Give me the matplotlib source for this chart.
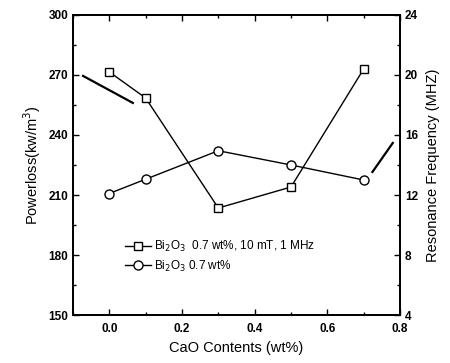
import matplotlib
matplotlib.use("Agg")
import matplotlib.pyplot as plt
from matplotlib.ticker import MultipleLocator

plt.rcParams["font.family"] = ["Liberation Sans", "DejaVu Sans"]

cao = [0.0, 0.1, 0.3, 0.5, 0.7]
powerloss = [271.5, 258.5, 203.5, 214.0, 273.0]
frequency = [12.1, 13.05, 14.95, 14.0, 13.0]

legend_loss = r"Bi$_2$O$_3$  0.7 wt%, 10 mT, 1 MHz"
legend_freq = r"Bi$_2$O$_3$ 0.7 wt%"

fig = plt.figure(figsize=(4.5, 3.63), dpi=100)
ax = fig.add_axes([0.162, 0.132, 0.727, 0.827])
ax2 = ax.twinx()

l1, = ax.plot(cao, powerloss, color="black", linewidth=1.0, marker="s",
              markersize=6, markerfacecolor="white", markeredgewidth=1.0,
              label=legend_loss)
l2, = ax2.plot(cao, frequency, color="black", linewidth=1.0, marker="o",
               markersize=6.5, markerfacecolor="white", markeredgewidth=1.0,
               label=legend_freq)

# pointer lines to each axis
ax.plot([-0.072, 0.065], [269.5, 256.0], color="black", linewidth=1.6)
ax.plot([0.724, 0.78], [221.5, 236.0], color="black", linewidth=1.6)

ax.set_xlim(-0.1, 0.8)
ax.set_ylim(150, 300)
ax2.set_ylim(4, 24)

ax.xaxis.set_major_locator(MultipleLocator(0.2))
ax.xaxis.set_minor_locator(MultipleLocator(0.1))
ax.yaxis.set_major_locator(MultipleLocator(30))
ax.yaxis.set_minor_locator(MultipleLocator(15))
ax2.yaxis.set_major_locator(MultipleLocator(4))
ax2.yaxis.set_minor_locator(MultipleLocator(2))

ax.tick_params(axis="both", which="both", direction="in", top=True,
               labelsize=8.5, width=1.0)
ax.tick_params(which="major", length=4)
ax.tick_params(which="minor", length=2.5)
ax.tick_params(axis="x", pad=6)
ax2.tick_params(axis="y", which="both", direction="in", labelsize=8.5, width=1.0)
ax2.tick_params(which="major", length=4)
ax2.tick_params(which="minor", length=2.5)
for a in (ax, ax2):
    for lab in a.get_xticklabels() + a.get_yticklabels():
        lab.set_fontweight("bold")
    for sp in a.spines.values():
        sp.set_linewidth(1.3)

ax.set_xticks([0.0, 0.2, 0.4, 0.6, 0.8])
ax.set_xticklabels(["0.0", "0.2", "0.4", "0.6", "0.8"], fontweight="bold")
for lab in ax2.get_yticklabels():
    if lab.get_text() == "4":
        lab.set_verticalalignment("center_baseline")

ax.set_xlabel("CaO Contents (wt%)", fontsize=10.5, labelpad=4)
ax.set_ylabel(r"Powerloss(kw/m$^3$)", fontsize=10.5, labelpad=4)
ax2.set_ylabel("Resonance Frequency (MHZ)", fontsize=10.5, labelpad=6)

ax.legend(handles=[l1, l2], loc="lower left", bbox_to_anchor=(0.126, 0.103),
          frameon=False, fontsize=8.5, handlelength=2.2, handletextpad=0.3,
          labelspacing=0.35)

fig.savefig("out.png", dpi=100)
